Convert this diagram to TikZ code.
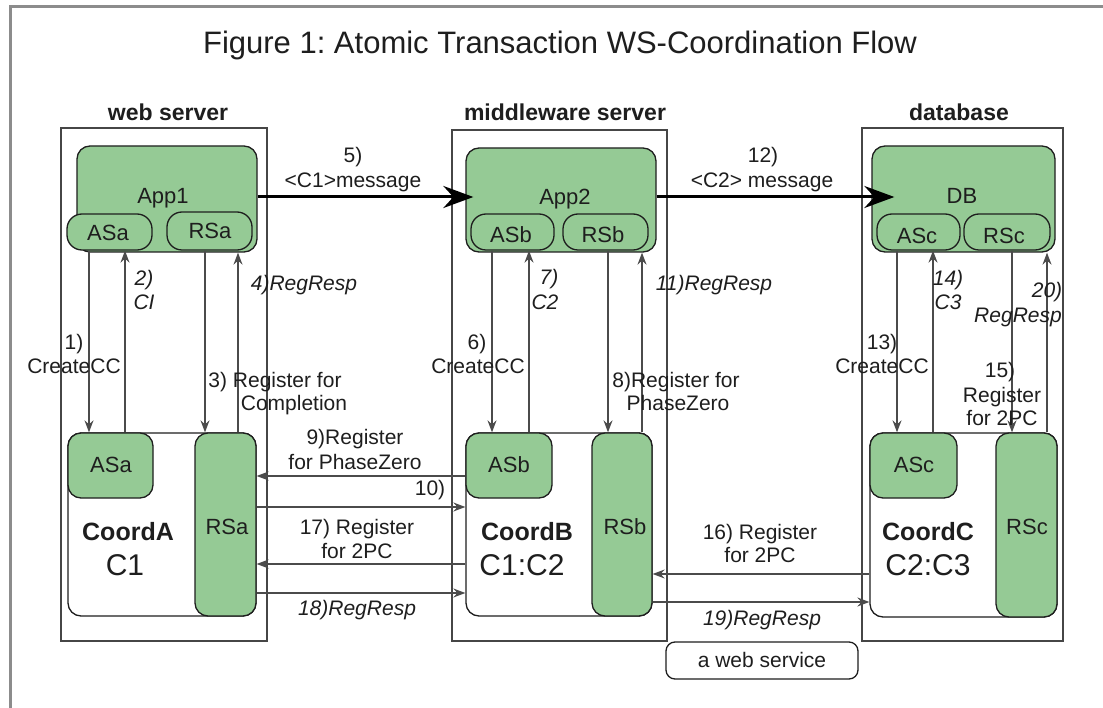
\documentclass[tikz,border=0pt]{standalone}
\usepackage{fontspec}
\setmainfont{Liberation Sans}
\usetikzlibrary{arrows.meta,fit,calc}
\frenchspacing

\definecolor{boxgreen}{RGB}{149,202,149}
\definecolor{ink}{RGB}{30,30,30}
\definecolor{serverline}{RGB}{70,70,70}
\definecolor{edge}{RGB}{75,75,75}
\definecolor{framegray}{RGB}{140,140,140}

\tikzset{
  x=1pt, y=-1pt,
  server/.style={draw=serverline, line width=1.7pt, inner sep=0pt},
  app/.style={draw=ink, fill=boxgreen, line width=1.3pt, rounded corners=13pt, inner sep=0pt},
  pill/.style={draw=ink, fill=boxgreen, line width=1.3pt, rounded corners=15pt, inner sep=0pt},
  coordbox/.style={draw=ink, fill=white, line width=1.3pt, rounded corners=13pt, inner sep=0pt},
  gsub/.style={draw=ink, fill=boxgreen, line width=1.3pt, rounded corners=13pt, inner sep=0pt},
  svcbox/.style={draw=ink, fill=white, line width=1.3pt, rounded corners=9pt, inner sep=0pt},
  % text nodes are centred on the middle of their capital letters
  lbl/.style={font=\fontsize{21}{24}\selectfont, text=ink, inner sep=0pt,
              text height=15pt, text depth=0pt},
  ilbl/.style={lbl, font=\fontsize{21}{24}\selectfont\itshape},
  boxlbl/.style={lbl, font=\fontsize{22}{26}\selectfont, text height=15.8pt},
  hdr/.style={lbl, font=\fontsize{23}{27}\selectfont\bfseries, text height=16.5pt},
  coordname/.style={lbl, font=\fontsize{25}{30}\selectfont\bfseries, text height=18pt},
  ctxid/.style={lbl, font=\fontsize{30}{36}\selectfont, text height=21.5pt},
  ttl/.style={lbl, font=\fontsize{31}{36}\selectfont, text height=22pt},
  arr/.style={draw=edge, line width=1.4pt, -{Stealth[length=12pt,width=9pt,inset=4pt]}},
  bigarr/.style={draw=black, line width=3pt, -{Stealth[length=30pt,width=22pt,inset=10pt]}},
}

\begin{document}
\begin{tikzpicture}
\useasboundingbox (0,0) rectangle (1103,708);
\fill[white] (0,0) rectangle (1103,708);

% page frame
\draw[draw=framegray, line width=3pt] (10,708) -- (10,7) -- (1103,7);

% title and column headers
\node[ttl] (title) at (560,43) {Figure 1: Atomic Transaction WS-Coordination Flow};
\node[hdr] (hweb) at (168,112) {web server};
\node[hdr] (hmid) at (565,112) {middleware server};
\node[hdr] (hdb)  at (959,112) {database};

% server boundaries
\node[server, fit={(61,128) (267,641)}] (web) {};
\node[server, fit={(452,130) (667,641)}] (mid) {};
\node[server, fit={(862,128) (1063,641)}] (dbs) {};

% applications with their services
\node[app, fit={(77,146) (257,252)}] (app1) {};
\node[pill, fit={(67,214) (152,250)}] (asas) {};
\node[pill, fit={(167,212) (252,250)}] (rsas) {};
\node[boxlbl] (app1t) at (163,196) {App1};
\node[boxlbl] (asast) at (108,233) {ASa};
\node[boxlbl] (rsast) at (210,231) {RSa};

\node[app, fit={(466,148) (656,252)}] (app2) {};
\node[pill, fit={(471,214) (554,250)}] (asbs) {};
\node[pill, fit={(563,214) (648,250)}] (rsbs) {};
\node[boxlbl] (app2t) at (565,197) {App2};
\node[boxlbl] (asbst) at (511,235) {ASb};
\node[boxlbl] (rsbst) at (603,235) {RSb};

\node[app, fit={(872,146) (1055,252)}] (db) {};
\node[pill, fit={(877,214) (960,250)}] (ascs) {};
\node[pill, fit={(964,214) (1050,250)}] (rscs) {};
\node[boxlbl] (dbt) at (962,196) {DB};
\node[boxlbl] (ascst) at (917,236) {ASc};
\node[boxlbl] (rscst) at (1004,236) {RSc};

% coordinators
\node[coordbox, fit={(68,433) (256,616)}] (coa) {};
\node[gsub, fit={(68,433) (153,498)}] (casa) {};
\node[gsub, fit={(195,433) (256,616)}] (crsa) {};
\node[boxlbl] (casat) at (111,465) {ASa};
\node[boxlbl] (crsat) at (227,527) {RSa};
\node[coordname] (coat) at (128,531) {CoordA};
\node[ctxid] (coac) at (125,565) {C1};

\node[coordbox, fit={(466,433) (652,616)}] (cob) {};
\node[gsub, fit={(466,433) (552,498)}] (casb) {};
\node[gsub, fit={(592,433) (652,616)}] (crsb) {};
\node[boxlbl] (casbt) at (509,465) {ASb};
\node[boxlbl] (crsbt) at (625,527) {RSb};
\node[coordname] (cobt) at (527,531) {CoordB};
\node[ctxid] (cobc) at (522,565) {C1:C2};

\node[coordbox, fit={(870,433) (1057,617)}] (coc) {};
\node[gsub, fit={(870,433) (957,498)}] (casc) {};
\node[gsub, fit={(996,433) (1057,617)}] (crsc) {};
\node[boxlbl] (casct) at (914,465) {ASc};
\node[boxlbl] (crsct) at (1027,527) {RSc};
\node[coordname] (coct) at (928,531) {CoordC};
\node[ctxid] (cocc) at (928,565) {C2:C3};

% legend box
\node[svcbox, fit={(666,642) (858,679)}] (svc) {};
\node[lbl] (svct) at (762,660) {a web service};

% x positions of the vertical messages
\coordinate (v1) at (89,0);   \coordinate (v2) at (125,0);
\coordinate (v3) at (205,0);  \coordinate (v4) at (238,0);
\coordinate (v6) at (492,0);  \coordinate (v7) at (529,0);
\coordinate (v8) at (608,0);  \coordinate (v11) at (642,0);
\coordinate (v13) at (897,0); \coordinate (v14) at (933,0);
\coordinate (v15) at (1012,0);\coordinate (v20) at (1047,0);
% y positions of the horizontal messages
\coordinate (h9) at (0,476);  \coordinate (h10) at (0,507);
\coordinate (h17) at (0,564); \coordinate (h18) at (0,593);
\coordinate (h16) at (0,574); \coordinate (h19) at (0,602);
\coordinate (hmsg) at (0,197);

% application messages
\draw[bigarr] (app1.east |- hmsg) -- ([xshift=8pt]app2.west |- hmsg);
\draw[bigarr] (app2.east |- hmsg) -- ([xshift=23pt]db.west |- hmsg);
\node[lbl] (m5a) at (353,155) {5)};
\node[lbl] (m5b) at (353,180) {\textless C1\textgreater message};
\node[lbl] (m12a) at (763,155) {12)};
\node[lbl] (m12b) at (762,180) {\textless C2\textgreater{} message};

% web server: activation and registration
\draw[arr] (asas.south -| v1) -- (casa.north -| v1);
\draw[arr] (casa.north -| v2) -- (asas.south -| v2);
\draw[arr] (rsas.south -| v3) -- (crsa.north -| v3);
\draw[arr] (crsa.north -| v4) -- (app1.south -| v4);
\node[lbl] (m1a) at (74,342) {1)};
\node[lbl] (m1b) at (74,366) {CreateCC};
\node[ilbl] (m2a) at (144,278) {2)};
\node[ilbl] (m2b) at (144,302) {CI};
\node[lbl] (m3a) at (275,380) {3) Register for};
\node[lbl] (m3b) at (294,403) {Completion};
\node[ilbl] (m4) at (304,283) {4)RegResp};

% middleware server: activation and registration
\draw[arr] (asbs.south -| v6) -- (casb.north -| v6);
\draw[arr] (casb.north -| v7) -- (asbs.south -| v7);
\draw[arr] (rsbs.south -| v8) -- (crsb.north -| v8);
\draw[arr] (crsb.north -| v11) -- (app2.south -| v11);
\node[lbl] (m6a) at (477,342) {6)};
\node[lbl] (m6b) at (478,366) {CreateCC};
\node[ilbl] (m7a) at (549,277) {7)};
\node[ilbl] (m7b) at (545,302) {C2};
\node[lbl] (m8a) at (676,380) {8)Register for};
\node[lbl] (m8b) at (678,403) {PhaseZero};
\node[ilbl] (m11) at (714,283) {11)RegResp};

% database: activation and registration
\draw[arr] (ascs.south -| v13) -- (casc.north -| v13);
\draw[arr] (casc.north -| v14) -- (ascs.south -| v14);
\draw[arr] (rscs.south -| v15) -- (crsc.north -| v15);
\draw[arr] (crsc.north -| v20) -- (db.south -| v20);
\node[lbl] (m13a) at (882,342) {13)};
\node[lbl] (m13b) at (882,366) {CreateCC};
\node[ilbl] (m14a) at (948,278) {14)};
\node[ilbl] (m14b) at (948,302) {C3};
\node[ilbl] (m20a) at (1047,290) {20)};
\node[ilbl] (m20b) at (1018,315) {RegResp};
\node[lbl] (m15a) at (1000,370) {15)};
\node[lbl] (m15b) at (1002,395) {Register};
\node[lbl] (m15c) at (1002,418) {for 2PC};

% coordinator to coordinator registration
\draw[arr] (casb.west |- h9) -- (crsa.east |- h9);
\draw[arr] (crsa.east |- h10) -- (cob.west |- h10);
\draw[arr] (cob.west |- h17) -- (crsa.east |- h17);
\draw[arr] (crsa.east |- h18) -- (cob.west |- h18);
\draw[arr] (coc.west |- h16) -- (crsb.east |- h16);
\draw[arr] (crsb.east |- h19) -- (coc.west |- h19);
\node[lbl] (m9a) at (355,437) {9)Register};
\node[lbl] (m9b) at (355,462) {for PhaseZero};
\node[lbl] (m10) at (430,488) {10)};
\node[lbl] (m17a) at (357,527) {17) Register};
\node[lbl] (m17b) at (357,551) {for 2PC};
\node[ilbl] (m18) at (357,608) {18)RegResp};
\node[lbl] (m16a) at (760,532) {16) Register};
\node[lbl] (m16b) at (760,555) {for 2PC};
\node[ilbl] (m19) at (762,618) {19)RegResp};
\end{tikzpicture}
\end{document}
